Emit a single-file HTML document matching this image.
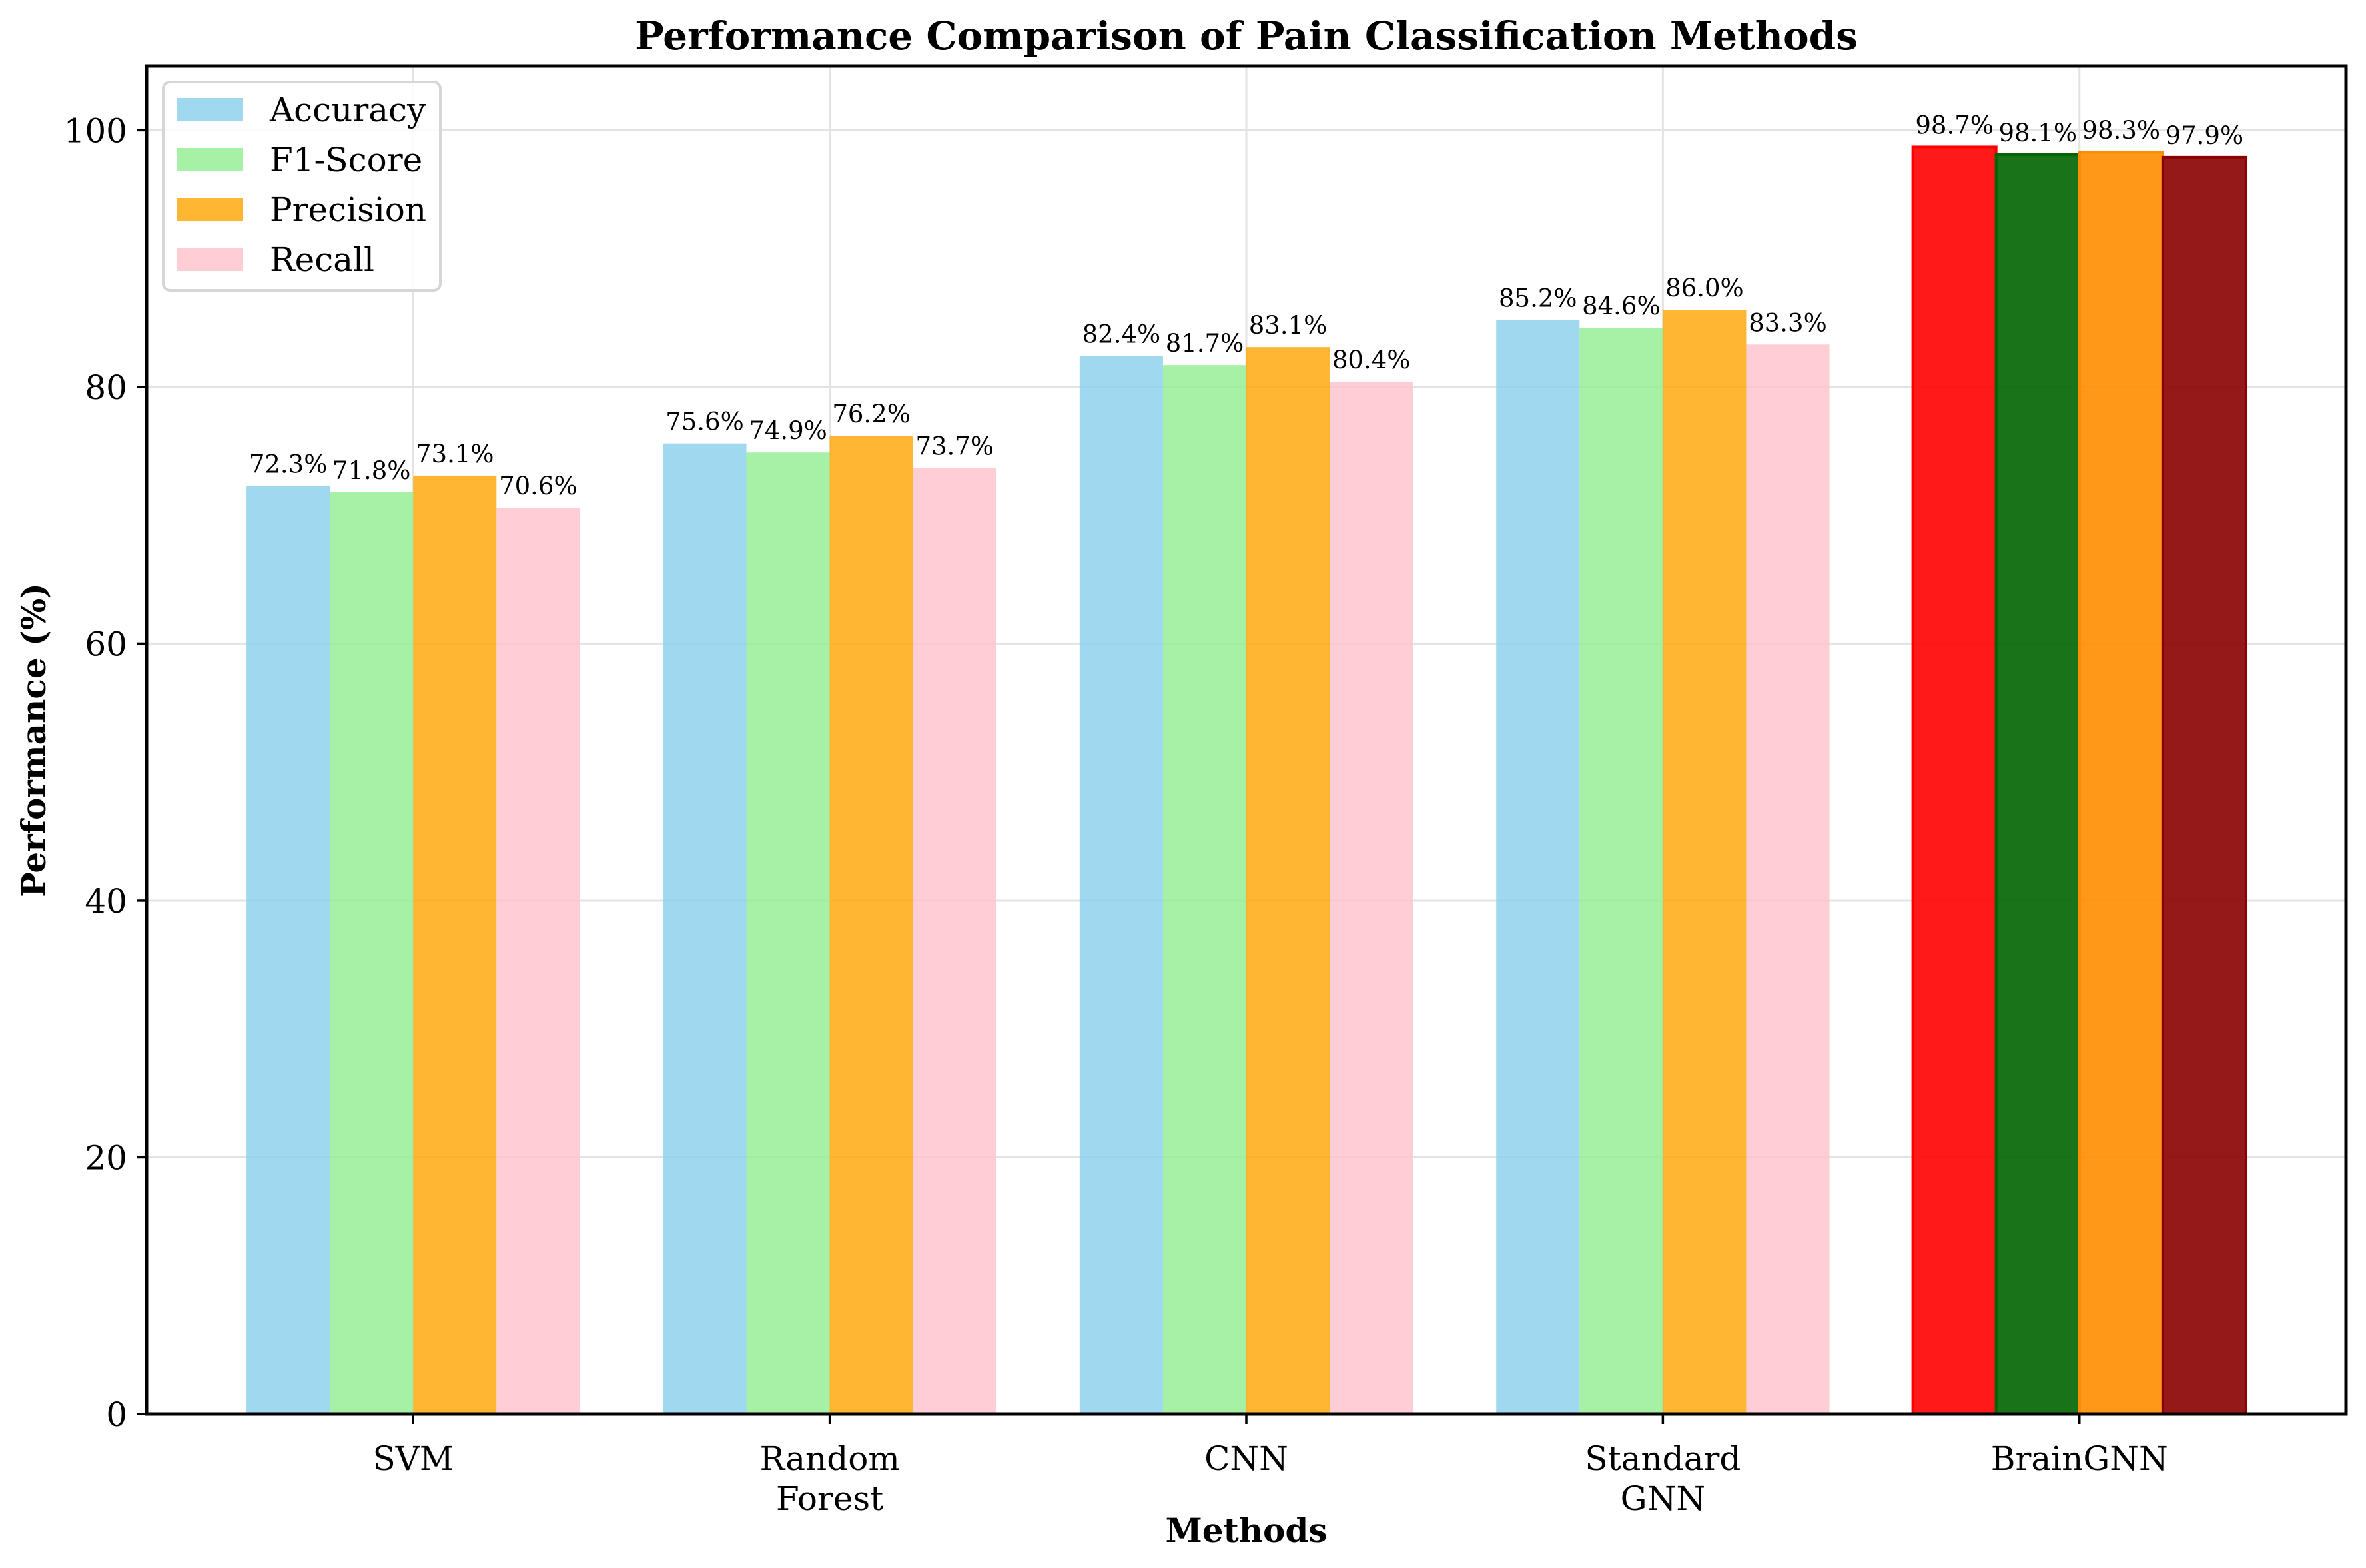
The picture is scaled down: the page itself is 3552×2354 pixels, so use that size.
<!DOCTYPE html>
<html><head><meta charset="utf-8"><style>
html,body{margin:0;padding:0;background:#fff;}
svg{display:block;font-family:"DejaVu Serif","Liberation Serif",serif;}
</style></head><body>
<svg id="chart" width="3552" height="2354" viewBox="0 0 3552 2354" xmlns="http://www.w3.org/2000/svg">
<rect width="3552" height="2354" fill="#fff"/>
<g id="grid"></g><g id="bars"></g><g id="labels"></g><g id="axes"></g>
</svg>
<script>
const categories = ["SVM", "Random\nForest", "CNN", "Standard\nGNN", "BrainGNN"];
const seriesNames = ["Accuracy", "F1-Score", "Precision", "Recall"];
const accuracy = [72.3, 75.6, 82.4, 85.2, 98.7];
const f1score = [71.8, 74.9, 81.7, 84.6, 98.1];
const precision = [73.1, 76.2, 83.1, 86.0, 98.3];
const recall = [70.6, 73.7, 80.4, 83.3, 97.9];
const yTicks = [0, 20, 40, 60, 80, 100];

const series = [accuracy, f1score, precision, recall];
const colors = ["#87CEEB", "#90EE90", "#FFA500", "#FFC0CB"];
const hiColors = ["#ff0000", "#006400", "#ff8c00", "#8b0000"];
const NS = "http://www.w3.org/2000/svg";
const L = 220, R = 3522, T = 99, B = 2123;
const xMin = -0.64, xMax = 4.64, yMax = 105;
const xs = v => L + (v - xMin) / (xMax - xMin) * (R - L);
const ys = v => B - v / yMax * (B - T);
function mk(tag, attrs, parent, txt) {
  const e = document.createElementNS(NS, tag);
  for (const k in attrs) e.setAttribute(k, attrs[k]);
  if (txt !== undefined) e.textContent = txt;
  parent.appendChild(e);
  return e;
}
const grid = document.getElementById('grid'), bars = document.getElementById('bars'),
      labels = document.getElementById('labels'), axes = document.getElementById('axes');
yTicks.forEach(t => {
  const g = mk('line', {x1: L, x2: R, y1: ys(t), y2: ys(t), stroke: '#e3e3e3', 'stroke-width': 3}, grid);
  
  
});
categories.forEach((c, i) => {
  const g = mk('line', {x1: xs(i), x2: xs(i), y1: T, y2: B, stroke: '#e3e3e3', 'stroke-width': 3}, grid);
  
  
});
const bw = 0.2;
series.forEach((vals, s) => {
  vals.forEach((v, i) => {
    const x0 = xs(i + (s - 1.5) * bw - bw / 2), x1 = xs(i + (s - 1.5) * bw + bw / 2);
    const hi = i === categories.length - 1;
    const attrs = {x: x0, y: ys(v), width: x1 - x0, height: B - ys(v),
      fill: hi ? hiColors[s] : colors[s], 'fill-opacity': hi ? 0.9 : 0.8};
    if (hi) { attrs.stroke = hiColors[s]; attrs['stroke-width'] = 4; }
    const r = mk('rect', attrs, bars);
    
    
    const t = mk('text', {x: (x0 + x1) / 2, y: ys(v) - 20, 'font-size': 37, 'text-anchor': 'middle', fill: '#000'}, labels, v.toFixed(1) + '%');
    
    
  });
});
// spines
const sp = mk('rect', {x: L, y: T, width: R - L, height: B - T, fill: 'none', stroke: '#000', 'stroke-width': 5}, axes);


yTicks.forEach(t => {
  mk('line', {x1: L - 15, x2: L, y1: ys(t), y2: ys(t), stroke: '#000', 'stroke-width': 3.5}, axes);
  const tl = mk('text', {x: L - 29, y: ys(t) + 18, 'font-size': 50, 'text-anchor': 'end'}, axes, String(t));
  
  
});
categories.forEach((c, i) => {
  mk('line', {x1: xs(i), x2: xs(i), y1: B, y2: B + 15, stroke: '#000', 'stroke-width': 3.5}, axes);
  c.split('\n').forEach((ln, k) => {
    const tl = mk('text', {x: xs(i), y: B + 84 + k * 60, 'font-size': 50, 'text-anchor': 'middle'}, axes, ln);
    
    
  });
});
const title = mk('text', {x: (L + R) / 2, y: 74, 'font-size': 58, 'font-weight': 'bold', 'text-anchor': 'middle'}, axes, 'Performance Comparison of Pain Classification Methods');


const xl = mk('text', {x: (L + R) / 2, y: 2315, 'font-size': 50, 'font-weight': 'bold', 'text-anchor': 'middle'}, axes, 'Methods');


const yl = mk('text', {x: 0, y: 0, 'font-size': 50, 'font-weight': 'bold', 'text-anchor': 'middle', transform: 'translate(68,' + (T + B) / 2 + ') rotate(-90)'}, axes, 'Performance (%)');


// legend
const lg = mk('g', {}, axes);


mk('rect', {x: 245, y: 123, width: 416, height: 313, rx: 10, fill: '#fff', 'fill-opacity': 0.8, stroke: '#d6d6d6', 'stroke-width': 4}, lg);
seriesNames.forEach((n, s) => {
  const cy = 164 + s * 75;
  const e = mk('g', {}, lg);
  
  
  mk('rect', {x: 265, y: cy - 17, width: 100, height: 35, fill: colors[s], 'fill-opacity': 0.8}, e);
  mk('text', {x: 405, y: cy + 18, 'font-size': 50}, e, n);
});
</script>
</body></html>
